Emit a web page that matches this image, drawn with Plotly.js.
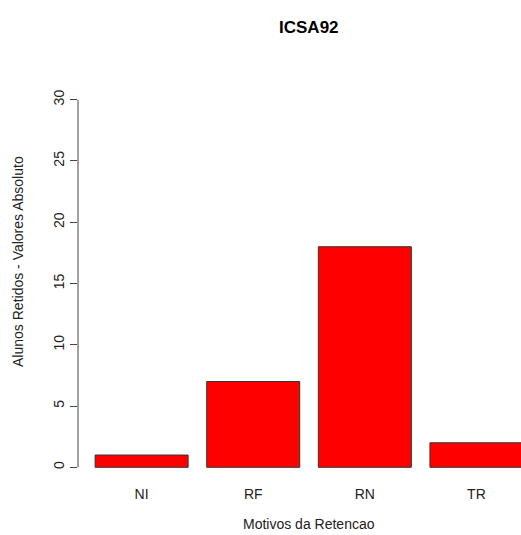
<!DOCTYPE html>
<html>
<head>
<meta charset="utf-8">
<script src="https://cdn.plot.ly/plotly-3.0.1.min.js"></script>
<style>html,body{margin:0;padding:0;background:#fff;}#chart{width:521px;height:535px;}</style>
</head>
<body>
<div id="chart"></div>
<script>
var categories = ["NI", "RF", "RN", "TR"];
var values = [1, 7, 18, 2];
var yTicks = [0, 5, 10, 15, 20, 25, 30];

// R barplot positions: width 1, space 0.2
var barCenters = categories.map(function (c, i) { return 0.7 + i * 1.2; });

var trace = {
  type: "bar",
  x: barCenters,
  y: values,
  width: 1,
  marker: { color: "#ff0000", line: { color: "#333333", width: 1 } },
  hoverinfo: "skip"
};

var font = { family: "Liberation Sans, Arial, sans-serif", size: 14, color: "#222" };

var layout = {
  width: 521,
  height: 535,
  margin: { l: 78, r: 0, t: 85.3, b: 53.3, pad: 0 },
  paper_bgcolor: "#fff",
  plot_bgcolor: "#fff",
  showlegend: false,
  font: font,
  title: {
    text: "<b>ICSA92</b>",
    font: { family: "Liberation Sans, Arial, sans-serif", size: 17, color: "#000" },
    x: 0.521, xref: "paper", xanchor: "center",
    y: 1 - 27 / 535, yref: "container", yanchor: "middle"
  },
  xaxis: {
    range: [0.016, 4.779],
    tickmode: "array",
    tickvals: barCenters,
    ticktext: categories,
    ticks: "",
    showline: false,
    showgrid: false,
    zeroline: false,
    ticklabelstandoff: 2,
    tickfont: font,
    fixedrange: true
  },
  yaxis: {
    range: [-1.2, 31.2],
    tickmode: "array",
    tickvals: yTicks,
    ticktext: yTicks.map(String),
    ticks: "outside",
    ticklen: 7,
    tickwidth: 1,
    tickcolor: "#444",
    tickangle: -90,
    showline: false,
    showgrid: false,
    zeroline: false,
    ticklabelstandoff: 0,
    tickfont: font,
    fixedrange: true
  },
  shapes: [{
    type: "line", xref: "paper", yref: "y",
    x0: 0, x1: 0, y0: yTicks[0], y1: yTicks[yTicks.length - 1],
    line: { color: "#444", width: 1 }
  }],
  annotations: [
    {
      text: "Motivos da Retencao", xref: "paper", yref: "paper",
      x: 0.521, y: -(524 - 481.7) / 396.4, xanchor: "center", yanchor: "middle",
      showarrow: false, font: font
    },
    {
      text: "Alunos Retidos - Valores Absoluto", xref: "paper", yref: "paper",
      x: -(78 - 18) / 443, y: (481.7 - 262) / 396.4, xanchor: "center", yanchor: "middle",
      textangle: -90, showarrow: false, font: font
    }
  ]
};

Plotly.newPlot("chart", [trace], layout, { staticPlot: true, displayModeBar: false });
</script>
</body>
</html>
